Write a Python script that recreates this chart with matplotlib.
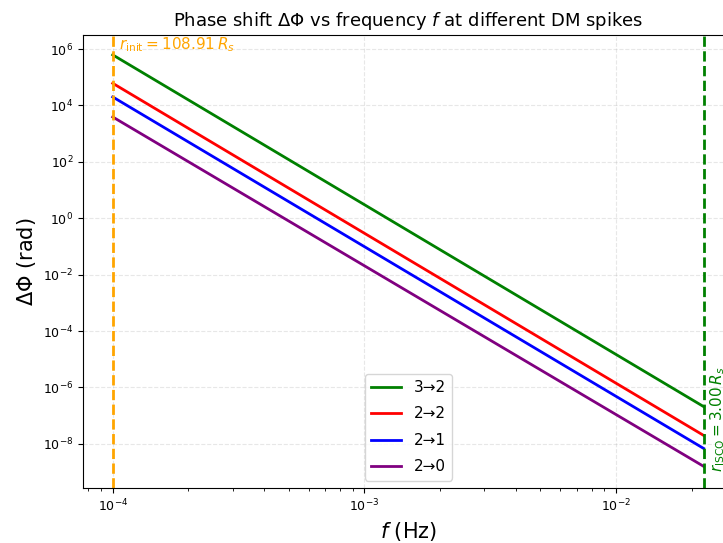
import numpy as np
import matplotlib
matplotlib.use("Agg")
import matplotlib.pyplot as plt

# frequency range (Hz): from r_init to r_isco
f_range = [1.0e-4, 2.23e-2]
labels = ["3\u21922", "2\u21922", "2\u21921", "2\u21920"]
colors = ["green", "red", "blue", "purple"]
# phase shift at the two ends of the range (rad)
dphi_start = [6.2e5, 6.1e4, 2.0e4, 3.9e3]
dphi_end = [2.1e-7, 2.0e-8, 6.9e-9, 1.6e-9]

r_init = 108.91
r_isco = 3.00

fig = plt.figure(figsize=(7.23, 5.43), dpi=100)
ax = fig.add_axes([0.115, 0.101, 0.899, 0.835])

for lab, c, a, b in zip(labels, colors, dphi_start, dphi_end):
    ax.loglog(f_range, [a, b], color=c, lw=2, label=lab)

ax.axvline(f_range[0], color="orange", ls="--", lw=2)
ax.axvline(f_range[1], color="green", ls="--", lw=2)

ax.set_xlim(7.63e-5, 2.92e-2)
ax.set_ylim(2.7e-10, 3.2e6)

ax.text(f_range[0] * 1.06, 1.4e6, r"$r_{\rm init} = %.2f\,R_s$" % r_init,
        color="orange", fontsize=11, va="center", ha="left")
ax.text(f_range[1] * 1.04, 1e-9, r"$r_{\rm ISCO} = %.2f\,R_s$" % r_isco,
        color="green", fontsize=11, rotation=90, va="bottom", ha="left")

ax.grid(True, which="major", ls="--", alpha=0.3)
ax.set_xlabel(r"$f$ (Hz)", fontsize=15)
ax.set_ylabel(r"$\Delta\Phi$ (rad)", fontsize=15)
ax.set_title(r"Phase shift $\Delta\Phi$ vs frequency $f$ at different DM spikes", fontsize=13)
ax.tick_params(labelsize=9)
ax.legend(loc="lower center", fontsize=11, labelspacing=0.75)

fig.savefig("out.png", dpi=100)
